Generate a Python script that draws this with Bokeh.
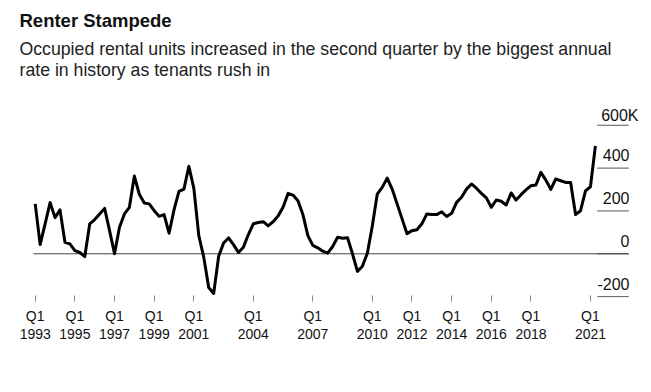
import numpy as np
from bokeh.plotting import figure
from bokeh.models import Range1d, FixedTicker, Label, LinearAxis
from bokeh.embed import file_html
from bokeh.resources import INLINE

# ---------------- data ----------------
title_text = "Renter Stampede"
subtitle_lines = [
    "Occupied rental units increased in the second quarter by the biggest annual",
    "rate in history as tenants rush in",
]
source_text = "Source: RealPage Inc."

start_year = 1993  # first value = Q1 1993, quarterly through Q2 2021
# Annual change in occupied rental units (thousands)
units_change = [
    233, 43, 140, 239, 169, 205, 54, 46,          # 1993-1994
    15, 6, -13, 140, 160, 186, 212, 108,           # 1995-1996
    0, 124, 186, 217, 363, 278, 237, 233,          # 1997-1998
    201, 175, 183, 96, 205, 291, 302, 408,         # 1999-2000
    305, 85, -16, -157, -185, -12, 50, 74,         # 2001-2002
    43, 6, 31, 90, 140, 146, 150, 130,             # 2003-2004
    150, 177, 217, 282, 274, 248, 183, 85,         # 2005-2006
    39, 28, 12, 3, 34, 77, 73, 75,                 # 2007-2008
    0, -82, -58, 3, 130, 279, 310, 353,            # 2009-2010
    302, 233, 163, 94, 108, 112, 140, 186,         # 2011-2012
    183, 183, 196, 174, 189, 240, 264, 302,        # 2013-2014
    326, 306, 282, 261, 217, 251, 245, 228,        # 2015-2016
    284, 251, 276, 298, 318, 321, 380, 344,        # 2017-2018
    301, 349, 341, 333, 333, 183, 201, 294,        # 2019-2020
    313, 504,                                      # 2021
]

x_ticks = [1993, 1995, 1997, 1999, 2001, 2004, 2007, 2010, 2012, 2014, 2016, 2018, 2021]
x_tick_quarters = ["Q1"] * len(x_ticks)
x_tick_years = [str(y) for y in x_ticks]
y_ticks = [-200, 0, 200, 400, 600]
y_tick_labels = ["-200", "0", "200", "400", "600K"]

# ---------------- figure ----------------
FONT = "Liberation Sans"
INK = "#111111"
x = start_year + np.arange(len(units_change)) * 0.25

FRAME_H = 297
p = figure(
    width=640, height=384,
    x_range=Range1d(1991.250, 2023.524),
    y_range=Range1d(-204.0, 1182.3),
    output_backend="svg", toolbar_location=None,
    y_axis_location=None,
    min_border_left=0, min_border_right=0, min_border_top=0,
    min_border_bottom=384 - FRAME_H,
)
p.outline_line_color = None
p.grid.visible = False
p.background_fill_color = "white"
p.border_fill_color = "white"

# x axis: row of "Q1" with ticks, then a row of years
ax = p.xaxis[0]
ax.ticker = FixedTicker(ticks=x_ticks)
ax.major_label_overrides = {t: q for t, q in zip(x_ticks, x_tick_quarters)}
ax.axis_line_color = None
ax.minor_tick_line_color = None
ax.major_tick_line_color = "#8a8a8a"
ax.major_tick_in = 2
ax.major_tick_out = 4
ax.major_label_standoff = 6
ax.major_label_text_font = FONT
ax.major_label_text_font_size = "14px"
ax.major_label_text_color = INK

ax2 = LinearAxis(ticker=FixedTicker(ticks=x_ticks),
                 major_label_overrides={t: y for t, y in zip(x_ticks, x_tick_years)})
ax2.axis_line_color = None
ax2.minor_tick_line_color = None
ax2.major_tick_line_color = None
ax2.major_tick_in = 0
ax2.major_tick_out = 0
ax2.major_label_standoff = 2
ax2.major_label_text_font = FONT
ax2.major_label_text_font_size = "14px"
ax2.major_label_text_color = INK
p.add_layout(ax2, "below")

# short gridlines at right, under the value labels
grid_x0, grid_x1 = 2021.34, 2022.93
p.segment(x0=[grid_x0] * len(y_ticks), x1=[grid_x1] * len(y_ticks),
          y0=y_ticks, y1=y_ticks, line_color="#555555", line_width=1)
# zero line across the chart
p.segment(x0=[1992.91], x1=[grid_x1], y0=[0], y1=[0], line_color="#444444", line_width=1)

# main series
p.line(x, units_change, line_color="black", line_width=3, line_join="round")

# value labels (right side, sitting above their gridlines)
for v, lab in zip(y_ticks, y_tick_labels):
    is_top = lab.endswith("K")
    p.add_layout(Label(
        x=638 if is_top else 629, x_units="screen", y=v, y_units="data",
        text=lab, text_align="right", text_baseline="middle",
        y_offset=10 if is_top else 13,
        text_font=FONT, text_font_size="16px", text_color=INK,
    ))

# titles (vertical centres given as page y, converted to screen units from frame bottom)
def sy(page_y):
    return FRAME_H - page_y

p.add_layout(Label(x=19, y=sy(20), x_units="screen", y_units="screen",
                   text=title_text, text_font=FONT, text_font_style="bold",
                   text_font_size="18.5px", text_color=INK, text_baseline="middle"))
for k, line in enumerate(subtitle_lines):
    p.add_layout(Label(x=19, y=sy(48 + 21 * k), x_units="screen", y_units="screen",
                       text=line, text_font=FONT, text_font_size="17.7px",
                       text_color="#222222", text_baseline="middle"))
p.add_layout(Label(x=19, y=sy(370), x_units="screen", y_units="screen",
                   text=source_text, text_font=FONT, text_font_size="13px",
                   text_color="#333333", text_baseline="middle"))

open("out.html", "w").write(file_html(p, INLINE))
